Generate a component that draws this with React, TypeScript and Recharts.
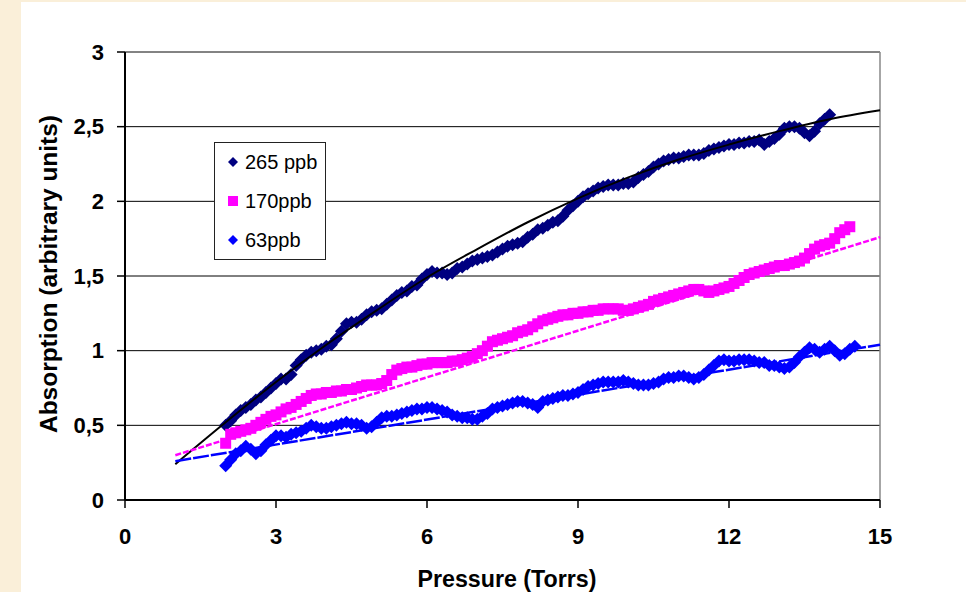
import React from 'react';
import { ScatterChart, Scatter, XAxis, YAxis, CartesianGrid, ReferenceLine } from 'recharts';

/* pressure grid of the measurements (Torr) */
const PRESSURE = [
  2.0, 2.1, 2.2, 2.3, 2.4, 2.5, 2.6, 2.7, 2.8, 2.9,
  3.0, 3.1, 3.2, 3.3, 3.4, 3.5, 3.6, 3.7, 3.8, 3.9,
  4.0, 4.1, 4.2, 4.3, 4.4, 4.5, 4.6, 4.7, 4.8, 4.9,
  5.0, 5.1, 5.2, 5.3, 5.4, 5.5, 5.6, 5.7, 5.8, 5.9,
  6.0, 6.1, 6.2, 6.3, 6.4, 6.5, 6.6, 6.7, 6.8, 6.9,
  7.0, 7.1, 7.2, 7.3, 7.4, 7.5, 7.6, 7.7, 7.8, 7.9,
  8.0, 8.1, 8.2, 8.3, 8.4, 8.5, 8.6, 8.7, 8.8, 8.9,
  9.0, 9.1, 9.2, 9.3, 9.4, 9.5, 9.6, 9.7, 9.8, 9.9,
  10.0, 10.1, 10.2, 10.3, 10.4, 10.5, 10.6, 10.7, 10.8, 10.9,
  11.0, 11.1, 11.2, 11.3, 11.4, 11.5, 11.6, 11.7, 11.8, 11.9,
  12.0, 12.1, 12.2, 12.3, 12.4, 12.5, 12.6, 12.7, 12.8, 12.9,
  13.0, 13.1, 13.2, 13.3, 13.4, 13.5, 13.6, 13.7, 13.8, 13.9,
  14.0, 14.1, 14.2, 14.3, 14.4, 14.5,
];

const ABS_265 = [
  0.50, 0.53, 0.57, 0.60, 0.62, 0.64, 0.67, 0.69, 0.72, 0.75,
  0.78, 0.81, 0.81, 0.84, 0.90, 0.94, 0.97, 0.99, 1.00, 1.01,
  1.03, 1.04, 1.08, 1.13, 1.18, 1.19, 1.19, 1.21, 1.24, 1.26,
  1.27, 1.28, 1.31, 1.34, 1.37, 1.39, 1.40, 1.43, 1.44, 1.48,
  1.51, 1.53, 1.52, 1.52, 1.51, 1.52, 1.55, 1.56, 1.58, 1.60,
  1.61, 1.62, 1.63, 1.64, 1.66, 1.68, 1.70, 1.71, 1.72, 1.73,
  1.76, 1.78, 1.81, 1.82, 1.84, 1.86, 1.87, 1.90, 1.94, 1.97,
  2.00, 2.03, 2.05, 2.07, 2.09, 2.10, 2.11, 2.11, 2.11, 2.12,
  2.12, 2.13, 2.16, 2.18, 2.20, 2.23, 2.25, 2.27, 2.28, 2.29,
  2.29, 2.30, 2.31, 2.31, 2.31, 2.32, 2.34, 2.35, 2.36, 2.37,
  2.38, 2.38, 2.39, 2.39, 2.40, 2.40, 2.41, 2.38, 2.40, 2.42,
  2.45, 2.49, 2.50, 2.50, 2.49, 2.46, 2.44, 2.47, 2.52, 2.55,
  2.58,
];

const ABS_170 = [
  0.38, 0.44, 0.45, 0.46, 0.47, 0.48, 0.50, 0.52, 0.54, 0.56,
  0.57, 0.59, 0.61, 0.62, 0.64, 0.66, 0.68, 0.70, 0.71, 0.71,
  0.72, 0.72, 0.73, 0.73, 0.74, 0.74, 0.75, 0.76, 0.77, 0.77,
  0.77, 0.78, 0.80, 0.84, 0.87, 0.88, 0.89, 0.89, 0.90, 0.91,
  0.91, 0.92, 0.92, 0.92, 0.92, 0.93, 0.93, 0.94, 0.95, 0.96,
  0.98, 1.00, 1.03, 1.06, 1.07, 1.08, 1.09, 1.10, 1.12, 1.13,
  1.14, 1.16, 1.18, 1.20, 1.21, 1.22, 1.23, 1.24, 1.24, 1.25,
  1.25, 1.26, 1.26, 1.27, 1.27, 1.28, 1.28, 1.28, 1.28, 1.27,
  1.27, 1.28, 1.29, 1.30, 1.31, 1.33, 1.34, 1.35, 1.36, 1.37,
  1.38, 1.39, 1.40, 1.41, 1.41, 1.40, 1.39, 1.40, 1.41, 1.42,
  1.43, 1.45, 1.47, 1.49, 1.51, 1.52, 1.53, 1.54, 1.55, 1.56,
  1.57, 1.57, 1.58, 1.59, 1.60, 1.62, 1.65, 1.68, 1.70, 1.71,
  1.72, 1.75, 1.79, 1.81, 1.83,
];

const ABS_63 = [
  0.23, 0.27, 0.31, 0.33, 0.36, 0.34, 0.31, 0.33, 0.37, 0.40,
  0.43, 0.43, 0.42, 0.44, 0.45, 0.46, 0.48, 0.50, 0.49, 0.48,
  0.48, 0.49, 0.50, 0.51, 0.52, 0.51, 0.51, 0.50, 0.48, 0.49,
  0.52, 0.55, 0.56, 0.56, 0.57, 0.58, 0.59, 0.60, 0.61, 0.61,
  0.62, 0.62, 0.61, 0.60, 0.59, 0.57, 0.56, 0.55, 0.55, 0.54,
  0.54, 0.56, 0.58, 0.61, 0.62, 0.63, 0.64, 0.65, 0.66, 0.66,
  0.65, 0.64, 0.62, 0.66, 0.67, 0.68, 0.69, 0.70, 0.70, 0.71,
  0.72, 0.74, 0.76, 0.77, 0.78, 0.79, 0.79, 0.79, 0.79, 0.80,
  0.79, 0.78, 0.77, 0.77, 0.77, 0.78, 0.79, 0.81, 0.82, 0.82,
  0.83, 0.83, 0.82, 0.81, 0.82, 0.84, 0.87, 0.90, 0.93, 0.94,
  0.93, 0.93, 0.94, 0.94, 0.94, 0.93, 0.92, 0.92, 0.90, 0.90,
  0.89, 0.88, 0.89, 0.92, 0.96, 0.99, 1.02, 1.01, 0.99, 1.01,
  1.03, 1.00, 0.97, 0.98, 1.01, 1.03,
];

/* trend lines */
const FIT_X = [1, 2, 3, 4, 5, 6, 7, 8, 9, 10, 11, 12, 13, 14, 15];
const FIT_265 = [0.24, 0.52, 0.79, 1.04, 1.27, 1.49, 1.68, 1.86, 2.02, 2.16, 2.28, 2.38, 2.47, 2.55, 2.61];
const LIN_X = [1, 15];
const LIN_170 = [0.30, 1.76];
const LIN_63 = [0.26, 1.04];

const X_TICKS = [0, 3, 6, 9, 12, 15];
const Y_TICKS = [0, 0.5, 1, 1.5, 2, 2.5, 3];

const NAVY = '#000080';
const MAGENTA = '#ff00ff';
const BLUE = '#0000ff';
const FONT = '"Liberation Sans", Arial, sans-serif';

const pts = (xs: number[], ys: number[]) => ys.map((y, i) => ({ x: xs[i], y }));

const diamond = (color: string, r: number) => (p: any) =>
  <polygon points={`${p.cx},${p.cy - r} ${p.cx + r},${p.cy} ${p.cx},${p.cy + r} ${p.cx - r},${p.cy}`} fill={color} />;
const square = (color: string, s: number) => (p: any) =>
  <rect x={p.cx - s / 2} y={p.cy - s / 2} width={s} height={s} fill={color} />;
const none = () => <g />;

const tickStyle = { fill: '#000', fontSize: 22, fontWeight: 700, fontFamily: FONT };

const XTitle = () => (
  <text x={507} y={587} textAnchor="middle" fontSize={23} fontWeight={700} fontFamily={FONT} fill="#000"
    textLength={179} lengthAdjust="spacingAndGlyphs">
    Pressure (Torrs)
  </text>
);
const YTitle = () => (
  <text transform="translate(57,274) rotate(-90)" textAnchor="middle" fontSize={23} fontWeight={700}
    fontFamily={FONT} fill="#000" textLength={318} lengthAdjust="spacingAndGlyphs">
    Absorption (arbitrary units)
  </text>
);

const LegendBox = () => (
  <div style={{ position: 'absolute', left: 214, top: 142, width: 112, height: 118, boxSizing: 'border-box', border: '1px solid #222', background: '#fff' }}>
    <svg width={110} height={116} style={{ display: 'block' }}>
      {diamond(NAVY, 5)({ cx: 18, cy: 19 })}
      <text x={30} y={26} fontSize={20} fontFamily={FONT} fill="#000">265 ppb</text>
      {square(MAGENTA, 10)({ cx: 18, cy: 58 })}
      <text x={30} y={65} fontSize={20} fontFamily={FONT} fill="#000">170ppb</text>
      {diamond(BLUE, 5)({ cx: 18, cy: 97 })}
      <text x={30} y={104} fontSize={20} fontFamily={FONT} fill="#000">63ppb</text>
    </svg>
  </div>
);

export default function App() {
  return (
    <div style={{ position: 'absolute', left: 0, top: 0, width: 966, height: 592, background: '#faefd9', overflow: 'hidden' }}>
      <div style={{ position: 'absolute', left: 21, top: 2, right: 0, bottom: 0, background: '#fff' }} />
      <div style={{ position: 'absolute', left: 0, top: 0 }}>
        <ScatterChart width={966} height={592} margin={{ top: 52, right: 86, bottom: 0, left: 0 }}>
          <CartesianGrid vertical={false} stroke="#000" strokeWidth={1} />
          <XAxis type="number" dataKey="x" domain={[0, 15]} ticks={X_TICKS} height={92}
            axisLine={{ stroke: '#000', strokeWidth: 2 }} tickLine={{ stroke: '#000', strokeWidth: 1.5 }}
            tickSize={8} tickMargin={20} tick={tickStyle} label={<XTitle />} />
          <YAxis type="number" dataKey="y" domain={[0, 3]} ticks={Y_TICKS} width={125}
            axisLine={{ stroke: '#000', strokeWidth: 2 }} tickLine={{ stroke: '#000', strokeWidth: 1.5 }}
            tickSize={8} tickMargin={13} tick={tickStyle} label={<YTitle />}
            tickFormatter={(v: number) => String(v).replace('.', ',')} />
          <ReferenceLine y={3} stroke="#888" strokeWidth={1} />
          <ReferenceLine x={15} stroke="#888" strokeWidth={1.5} />
          <Scatter data={pts(PRESSURE, ABS_265)} shape={diamond(NAVY, 6.5)} isAnimationActive={false} />
          <Scatter data={pts(PRESSURE, ABS_170)} shape={square(MAGENTA, 11)} isAnimationActive={false} />
          <Scatter data={pts(PRESSURE, ABS_63)} shape={diamond(BLUE, 6.5)} isAnimationActive={false} />
          <Scatter data={pts(FIT_X, FIT_265)} shape={none} line={{ stroke: '#000', strokeWidth: 2 }}
            lineJointType="monotoneX" isAnimationActive={false} />
          <Scatter data={pts(LIN_X, LIN_170)} shape={none} line={{ stroke: MAGENTA, strokeWidth: 2.5, strokeDasharray: '6 2' }}
            isAnimationActive={false} />
          <Scatter data={pts(LIN_X, LIN_63)} shape={none} line={{ stroke: BLUE, strokeWidth: 2.5, strokeDasharray: '16 2' }}
            isAnimationActive={false} />
        </ScatterChart>
      </div>
      <LegendBox />
    </div>
  );
}
